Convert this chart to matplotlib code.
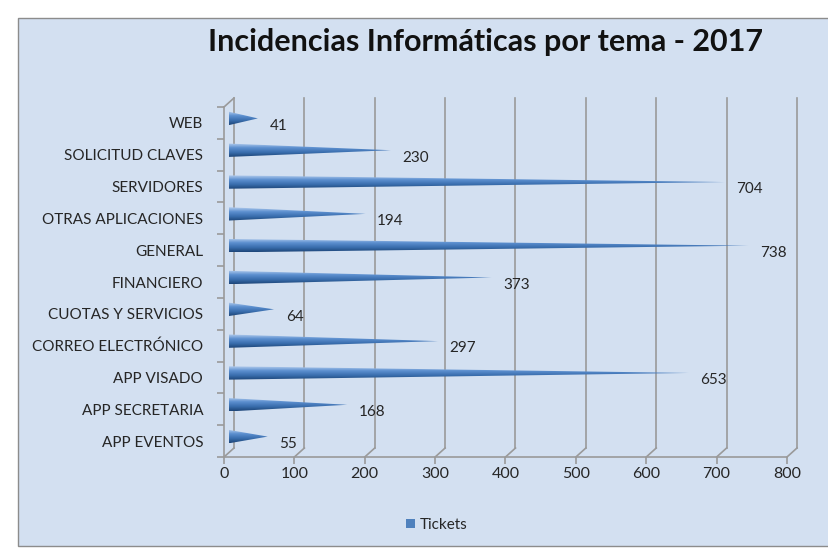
import numpy as np
import matplotlib
matplotlib.use("Agg")
import matplotlib.pyplot as plt
import matplotlib.transforms as mtransforms
from matplotlib.patches import Polygon, Rectangle, Patch
from matplotlib.colors import LinearSegmentedColormap

# ---------------------------------------------------------
# DATA
# ---------------------------------------------------------
categories = ["APP EVENTOS", "APP SECRETARIA", "APP VISADO", "CORREO ELECTRÓNICO",
              "CUOTAS Y SERVICIOS", "FINANCIERO", "GENERAL", "OTRAS APLICACIONES",
              "SERVIDORES", "SOLICITUD CLAVES", "WEB"]
tickets = [55, 168, 653, 297, 64, 373, 738, 194, 704, 230, 41]
x_ticks = [0, 100, 200, 300, 400, 500, 600, 700, 800]

title = "Incidencias Informáticas por tema - 2017"
series_name = "Tickets"

# ---------------------------------------------------------
# STYLE
# ---------------------------------------------------------
plt.rcParams["font.family"] = ["Lato", "DejaVu Sans"]
bg = "#d3e0f1"
grid_col = "#9a9a9a"
text_col = "#262626"
cone_cmap = LinearSegmentedColormap.from_list(
    "cone", ["#1d4578", "#3a6eae", "#5c8fcf", "#b4cdee"])

W, H = 829, 548
fig = plt.figure(figsize=(W / 100, H / 100), dpi=100)
fig.patch.set_facecolor("white")

# chart area with border
fig.patches.append(Rectangle((18 / W, 2 / H), 1.0, (H - 20) / H,
                             transform=fig.transFigure, facecolor=bg,
                             edgecolor="#8c8c8c", lw=1.0, zorder=-5))

# front plane: x 0..800 -> px 224..787, y -0.5..10.5 -> px 457..107
ax = fig.add_axes([224 / W, (H - 457) / H, (787 - 224) / W, (457 - 107) / H])
ax.set_facecolor("none")
n = len(categories)
ax.set_xlim(0, 800)
ax.set_ylim(-0.5, n - 0.5)

# depth offsets (back wall, and mid-depth for the cones)
back = ax.transData + mtransforms.ScaledTranslation(0.10, 0.09, fig.dpi_scale_trans)
mid = ax.transData + mtransforms.ScaledTranslation(0.05, 0.045, fig.dpi_scale_trans)

# back wall gridlines
for xt in x_ticks:
    ax.plot([xt, xt], [-0.5, n - 0.5], color=grid_col, lw=1.2,
            transform=back, clip_on=False, zorder=1)

# floor diagonals (front tick -> back wall), done in figure coords
fig.canvas.draw()
inv = fig.transFigure.inverted()
corners = [(xt, -0.5) for xt in x_ticks] + [(0, n - 0.5)]
for pt in corners:
    a = inv.transform(ax.transData.transform(pt))
    b = inv.transform(back.transform(pt))
    fig.lines.append(plt.Line2D([a[0], b[0]], [a[1], b[1]], color=grid_col,
                                lw=1.2, transform=fig.transFigure, zorder=2))

# cones
h = 0.21
grad = np.linspace(0, 1, 64).reshape(-1, 1)
for i, v in enumerate(tickets):
    tri = Polygon([[0, i - h], [0, i + h], [v, i]], closed=True,
                  facecolor="none", edgecolor="none", transform=mid)
    ax.add_patch(tri)
    im = ax.imshow(grad, cmap=cone_cmap, origin="lower", aspect="auto",
                   extent=[0, v, i - h, i + h], zorder=3)
    im.set_transform(mid)
    im.set_clip_path(tri)
    ax.annotate(str(v), xy=(v, i), xytext=(12, -2), textcoords="offset points",
                ha="left", va="center", fontsize=11, color=text_col,
                annotation_clip=False, zorder=4)

ax.set_xlim(0, 800)
ax.set_ylim(-0.5, n - 0.5)

# axes lines and ticks
for s in ["top", "right"]:
    ax.spines[s].set_visible(False)
for s in ["left", "bottom"]:
    ax.spines[s].set_color(grid_col)
    ax.spines[s].set_linewidth(1.2)

ax.set_xticks(x_ticks)
ax.set_xticklabels([str(t) for t in x_ticks], fontsize=11.5, color=text_col)
ax.tick_params(axis="x", length=5, width=1.2, color=grid_col, pad=2)

ax.set_yticks(range(n))
ax.set_yticklabels(categories, fontsize=11, color=text_col)
ax.tick_params(axis="y", which="major", length=0, pad=15)
ax.set_yticks(np.arange(-0.5, n, 1.0), minor=True)
ax.tick_params(axis="y", which="minor", length=5, width=1.2, color=grid_col)

# title
fig.text(486 / W, 1 - 42 / H, title, ha="center", va="center",
         fontsize=22, fontweight="bold", color="#111111")

# legend
fig.legend(handles=[Patch(facecolor="#4f81bd", edgecolor="none", label=series_name)],
           loc="center", bbox_to_anchor=(437 / W, 1 - 525 / H), frameon=False,
           fontsize=11, handlelength=0.6, handleheight=0.6, handletextpad=0.3,
           labelcolor=text_col)

fig.savefig("out.png", dpi=100, facecolor=fig.get_facecolor())
